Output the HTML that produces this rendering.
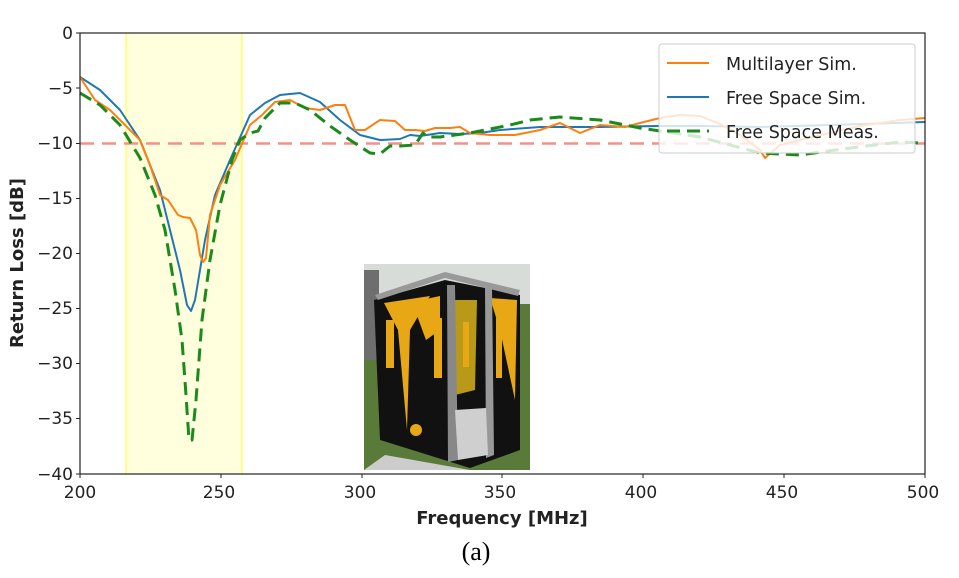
<!DOCTYPE html>
<html><head><meta charset="utf-8"><style>
body{margin:0;background:#fff;width:959px;height:578px;overflow:hidden}
svg{display:block}
text{font-family:"DejaVu Sans","Liberation Sans",sans-serif}
</style></head><body>
<svg width="959" height="578" viewBox="0 0 959 578">
<rect x="126" y="33" width="116" height="441" fill="#ffffdd" stroke="#ffff33" stroke-width="1"/>
<line x1="80" y1="143.5" x2="925" y2="143.5" stroke="#f4908a" stroke-width="2.5" stroke-dasharray="14,8"/>
<g>
<rect x="364" y="264" width="166" height="206" fill="#5a7a3a"/>
<rect x="364" y="264" width="166" height="40" fill="#d8dcd8"/>
<rect x="364" y="270" width="15" height="90" fill="#6e6e6e"/>
<polygon points="374,300 445,280 520,295 520,450 470,468 380,440" fill="#111"/>
<polygon points="384,303 430,296 410,330 407,430 398,330" fill="#e8a815"/>
<polygon points="412,302 440,296 440,330 426,340" fill="#e8a815"/>
<polygon points="455,300 477,300 475,390 455,395" fill="#b89a18"/>
<polygon points="490,298 517,300 515,400 500,330" fill="#e8a815"/>
<g fill="#e8a815"><rect x="386" y="320" width="8" height="48"/><rect x="434" y="318" width="8" height="60"/><rect x="463" y="322" width="6" height="45"/><rect x="496" y="318" width="6" height="60"/></g>
<circle cx="416" cy="430" r="6" fill="#e8a815"/>
<polygon points="447,285 455,285 458,460 448,462" fill="#888"/>
<polygon points="485,285 492,285 494,455 486,458" fill="#999"/>
<polygon points="455,410 486,408 488,455 458,460" fill="#cfcfcf"/>
<polygon points="385,455 470,470 364,470" fill="#ccc"/>
<polygon points="375,295 445,272 520,290 518,296 445,278 378,300" fill="#999"/>
</g>
<g fill="none" stroke-linejoin="round">
<polyline stroke="#1f77b4" stroke-width="2" points="80,77 100,90 120,110 140,140 160,190 170,230 180,270 187,305 191,311 195,300 205,240 215,195 230,160 250,115 265,103 280,95 300,93 320,102 340,120 360,135 380,140 400,139 410,135 420,136 440,133 460,134 480,133 500,130 540,127 600,127 660,126 700,126 760,127 830,125 925,122"/>
<polyline stroke="#ff7f0e" stroke-width="2" points="80,77 95,100 110,110 125,125 140,140 150,165 160,195 168,200 178,215 183,217 190,218 196,230 200,255 203,262 206,258 210,215 220,185 235,160 250,125 262,115 275,102 290,100 305,108 320,110 335,105 345,105 355,130 365,130 380,120 395,121 405,130 415,130 425,131 435,128 450,128 460,127 470,133 490,135 515,135 540,130 560,123 580,133 600,125 625,127 640,123 660,118 680,115 700,116 720,124 740,135 760,150 765,158 780,145 800,140 830,133 860,126 900,120 925,118"/>
<polyline stroke="#1a8a1a" stroke-width="3" stroke-dasharray="13,7" points="80,93 100,105 120,125 140,158 155,195 165,230 175,290 182,340 186,395 189,440 192,440 196,400 202,320 210,260 220,205 232,160 240,140 250,133 258,131 265,118 280,103 295,103 310,110 330,126 350,140 370,153 380,154 390,146 400,146 415,145 423,133 428,137 440,137 470,133 510,125 530,120 560,117 600,120 640,128 700,137 760,153 800,155 850,148 900,142 920,143"/>
</g>
<rect x="80" y="33" width="845" height="441" fill="none" stroke="#222" stroke-width="1.2"/>
<rect x="659" y="44" width="256" height="109" rx="3" fill="#fff" fill-opacity="0.8" stroke="#ccc"/>
<line x1="667" y1="63" x2="709" y2="63" stroke="#ff7f0e" stroke-width="2"/>
<line x1="667" y1="97" x2="709" y2="97" stroke="#1f77b4" stroke-width="2"/>
<line x1="667" y1="131" x2="709" y2="131" stroke="#1a8a1a" stroke-width="3" stroke-dasharray="13,7"/>
<g font-size="17.5" fill="#222">
<text x="726" y="70">Multilayer Sim.</text>
<text x="726" y="104">Free Space Sim.</text>
<text x="726" y="138">Free Space Meas.</text>
</g>
<g stroke="#222" stroke-width="1">
<line x1="76" y1="33" x2="80" y2="33"/><line x1="76" y1="88" x2="80" y2="88"/><line x1="76" y1="143.5" x2="80" y2="143.5"/><line x1="76" y1="198.5" x2="80" y2="198.5"/><line x1="76" y1="253.5" x2="80" y2="253.5"/><line x1="76" y1="308.5" x2="80" y2="308.5"/><line x1="76" y1="363.5" x2="80" y2="363.5"/><line x1="76" y1="418.5" x2="80" y2="418.5"/><line x1="76" y1="474" x2="80" y2="474"/>
<line x1="80" y1="474" x2="80" y2="478"/><line x1="221" y1="474" x2="221" y2="478"/><line x1="362" y1="474" x2="362" y2="478"/><line x1="502" y1="474" x2="502" y2="478"/><line x1="643" y1="474" x2="643" y2="478"/><line x1="784" y1="474" x2="784" y2="478"/><line x1="925" y1="474" x2="925" y2="478"/>
</g>
<g font-size="17" fill="#222" text-anchor="end">
<text x="73" y="39">0</text><text x="73" y="94">−5</text><text x="73" y="149">−10</text><text x="73" y="204">−15</text><text x="73" y="259">−20</text><text x="73" y="314">−25</text><text x="73" y="369">−30</text><text x="73" y="424">−35</text><text x="73" y="480">−40</text>
</g>
<g font-size="17" fill="#222" text-anchor="middle">
<text x="80" y="498">200</text><text x="219" y="498">250</text><text x="360" y="498">300</text><text x="500" y="498">350</text><text x="641" y="498">400</text><text x="782" y="498">450</text><text x="923" y="498">500</text>
</g>
<text x="502" y="524" font-size="18" font-weight="bold" text-anchor="middle" fill="#222">Frequency [MHz]</text>
<text transform="translate(23,263) rotate(-90)" font-size="18" font-weight="bold" text-anchor="middle" fill="#222">Return Loss [dB]</text>
<text x="476" y="560" font-size="26" text-anchor="middle" fill="#000" style="font-family:'Liberation Serif',serif">(a)</text>
</svg>
</body></html>
